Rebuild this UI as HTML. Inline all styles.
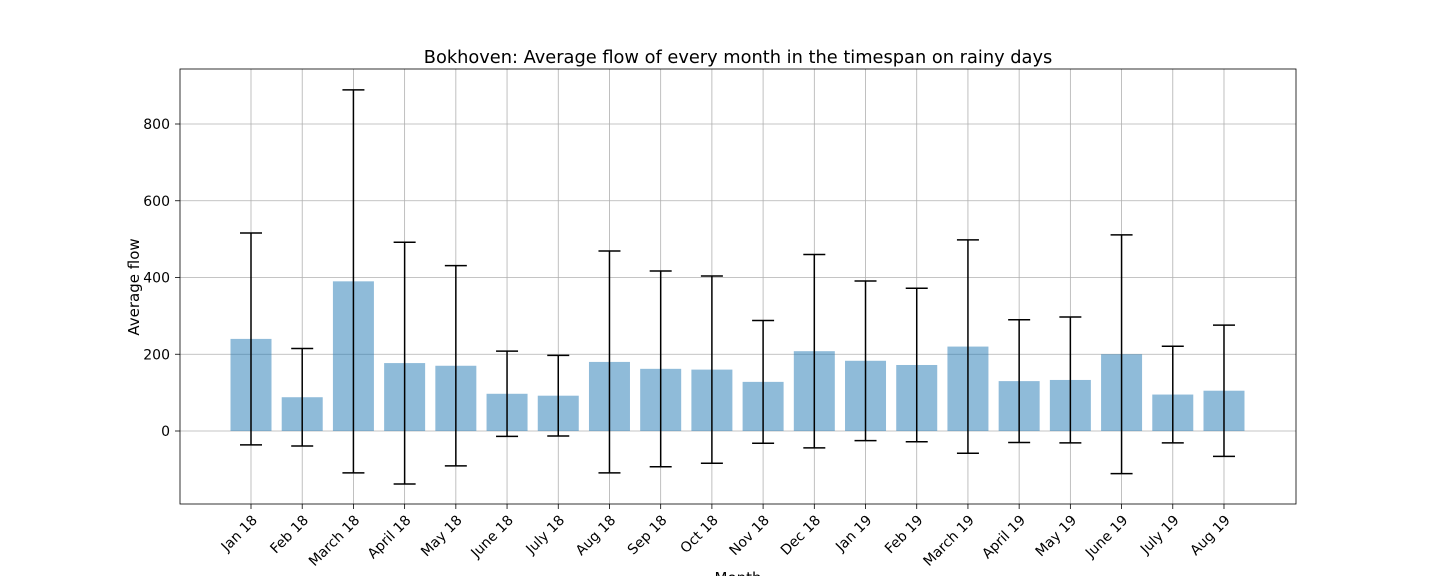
<!DOCTYPE html>
<html><head><meta charset="utf-8"><style>body{margin:0;background:#fff}svg{display:block;font-family:"DejaVu Sans","Liberation Sans",sans-serif}</style></head>
<body>
<svg id="chart" width="1440" height="576"></svg>
<script>
const categories=["Jan 18","Feb 18","March 18","April 18","May 18","June 18","July 18","Aug 18","Sep 18","Oct 18","Nov 18","Dec 18","Jan 19","Feb 19","March 19","April 19","May 19","June 19","July 19","Aug 19"];
const values=[240,88,390,177,170,97,92,180,162,160,128,208,183,172,220,130,133,200,95,105];
const errors=[276,127,499,315,261,111,105,289,255,244,160,252,208,200,278,160,164,311,126,171];
const yTicks=[0,200,400,600,800];
const NS="http://www.w3.org/2000/svg";
const svg=document.getElementById('chart');
const L=180,R=1296,T=69,B=504;
const y=v=>431-v*0.38375;
const x=i=>251+i*51.21;
function el(t,a,txt){const e=document.createElementNS(NS,t);for(const k in a)e.setAttribute(k,a[k]);if(txt!=null)e.textContent=txt;svg.appendChild(e);return e;}
yTicks.forEach(v=>{const g=el('line',{x1:L,x2:R,y1:y(v),y2:y(v),stroke:'#b0b0b0','stroke-width':0.8});


const t=el('text',{x:L-10,y:y(v)+5,'text-anchor':'end','font-size':14,fill:'#000'},String(v));


el('line',{x1:L-5,x2:L,y1:y(v),y2:y(v),stroke:'#000','stroke-width':0.8});});
categories.forEach((c,i)=>{const g=el('line',{x1:x(i),x2:x(i),y1:T,y2:B,stroke:'#b0b0b0','stroke-width':0.8});

});
categories.forEach((c,i)=>{
const v=values[i],e=errors[i];
const b=el('rect',{x:x(i)-20.5,y:Math.min(y(v),y(0)),width:41,height:Math.abs(y(0)-y(v)),fill:'#1f77b4','fill-opacity':0.5});


const eb=el('g',{stroke:'#000','stroke-width':1.5});


[[x(i),x(i),y(v-e),y(v+e)],[x(i)-11,x(i)+11,y(v+e),y(v+e)],[x(i)-11,x(i)+11,y(v-e),y(v-e)]].forEach(p=>{const l=document.createElementNS(NS,'line');l.setAttribute('x1',p[0]);l.setAttribute('x2',p[1]);l.setAttribute('y1',p[2]);l.setAttribute('y2',p[3]);eb.appendChild(l);});
el('line',{x1:x(i),x2:x(i),y1:B,y2:B+5,stroke:'#000','stroke-width':0.8});
const t=el('text',{x:0,y:0,'text-anchor':'end','font-size':14,fill:'#000',transform:`translate(${x(i)+7},${B+17}) rotate(-45)`},c);


});
const f=el('rect',{x:L,y:T,width:R-L,height:B-T,fill:'none',stroke:'#000','stroke-width':0.8});


const ti=el('text',{x:738,y:63,'text-anchor':'middle','font-size':17.8,fill:'#000'},'Bokhoven: Average flow of every month in the timespan on rainy days');


const yl=el('text',{x:0,y:0,'text-anchor':'middle','font-size':15,fill:'#000',transform:'translate(139,287) rotate(-90)'},'Average flow');


const xl=el('text',{x:738,y:583,'text-anchor':'middle','font-size':15,fill:'#000'},'Month');


</script>
</body></html>
